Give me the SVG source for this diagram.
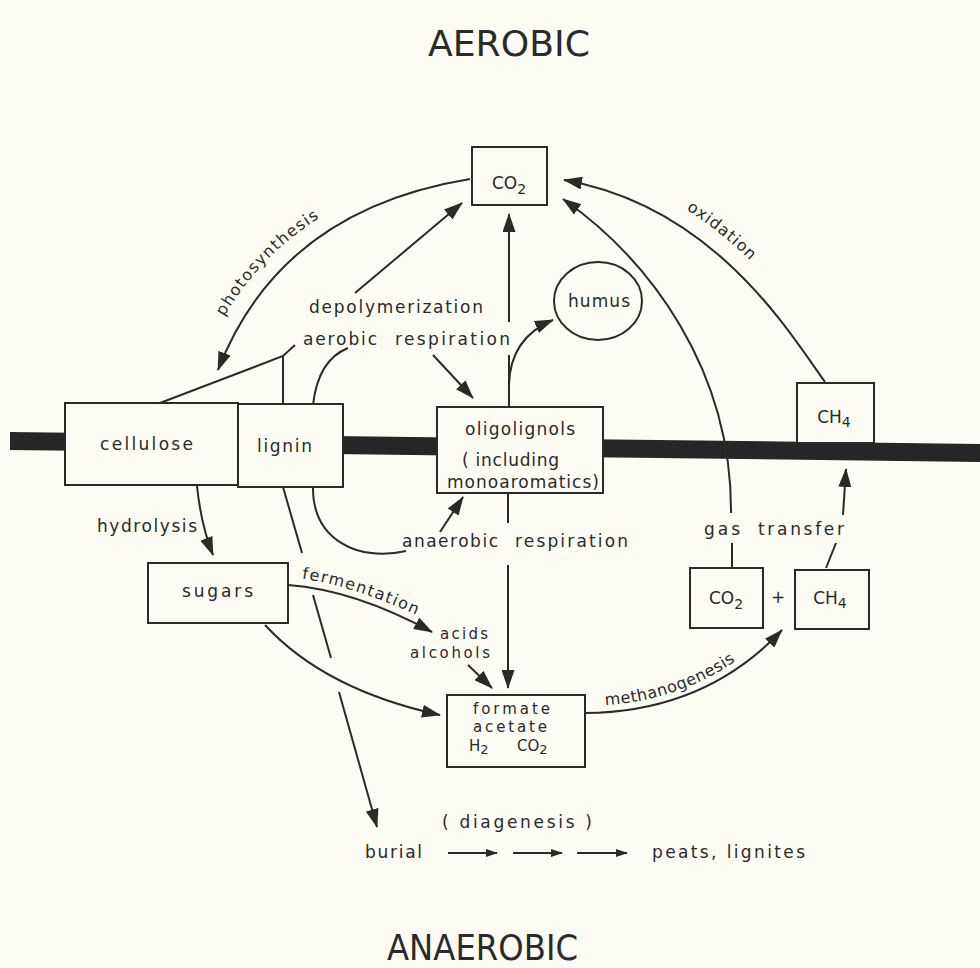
<svg xmlns="http://www.w3.org/2000/svg" width="980" height="968" viewBox="0 0 980 968">
<style>
.ln{fill:none;stroke:#2a2a2a;stroke-width:2}
.bx{fill:#fcfcf5;stroke:#2a2a2a;stroke-width:2}
text{font-family:"DejaVu Sans",sans-serif;font-size:17px;fill:#2a2a2a}
.ttl{font-size:36px}
.tp{font-size:16px}
.sub{font-size:14px}
.sm{font-size:15px}
.md{font-size:15px}
</style>
<defs>
<marker id="ah" markerUnits="userSpaceOnUse" viewBox="0 0 19 13" markerWidth="19" markerHeight="13" refX="18" refY="6.5" orient="auto"><path d="M0,0 L19,6.5 L0,13 z" fill="#2a2a2a"/></marker>
<marker id="sm" markerUnits="userSpaceOnUse" viewBox="0 0 12 8" markerWidth="12" markerHeight="8" refX="11" refY="4" orient="auto"><path d="M0,0 L12,4 L0,8 z" fill="#2a2a2a"/></marker>
<path id="pPhoto" d="M203,360 Q 268,198 468,164"/>
<path id="pFerm" d="M287,577 Q 351,582 437,625"/>
<path id="pMeth" d="M585,706 Q 702,705 777,625"/>
<path id="pOxi" d="M569,164 C 725,192 801,319 838,373"/>
</defs>
<rect x="0" y="0" width="980" height="968" fill="#fcfcf5"/>
<text class="ttl" x="428" y="56" textLength="162" lengthAdjust="spacingAndGlyphs">AEROBIC</text>
<text class="ttl" x="387" y="960" textLength="191" lengthAdjust="spacingAndGlyphs">ANAEROBIC</text>
<polygon points="10,432 980,444 980,462 10,450" fill="#262626"/>
<g id="connectors">
<path class="ln" d="M470,179 Q 280,210 218,370" marker-end="url(#ah)"/>
<path class="ln" d="M355,293 L462,203" marker-end="url(#ah)"/>
<path class="ln" d="M509,322 L509,214" marker-end="url(#ah)"/>
<path class="ln" d="M509,355 L509,407"/>
<path class="ln" d="M509,385 Q 510,338 553,320" marker-end="url(#ah)"/>
<path class="ln" d="M433,355 L473,398" marker-end="url(#ah)"/>
<path class="ln" d="M160,403 L283,356 L295,345"/>
<path class="ln" d="M283,356 L283,405"/>
<path class="ln" d="M313,405 Q 318,360 348,348"/>
<path class="ln" d="M283,487 L302,553"/>
<path class="ln" d="M313,595 L331,658"/>
<path class="ln" d="M339,692 L377,827" marker-end="url(#ah)"/>
<path class="ln" d="M313,488 C 313,540 358,562 406,551"/>
<path class="ln" d="M440,532 L463,497" marker-end="url(#ah)"/>
<path class="ln" d="M508,493 L508,523"/>
<path class="ln" d="M508,565 L508,688" marker-end="url(#ah)"/>
<path class="ln" d="M197,486 Q 201,525 213,555" marker-end="url(#ah)"/>
<path class="ln" d="M288,585 Q 355,590 432,632" marker-end="url(#ah)"/>
<path class="ln" d="M265,625 Q 325,690 440,715" marker-end="url(#ah)"/>
<path class="ln" d="M468,665 L492,688" marker-end="url(#ah)"/>
<path class="ln" d="M585,713 Q 705,712 782,630" marker-end="url(#ah)"/>
<path class="ln" d="M732,568 L732,543"/>
<path class="ln" d="M731,513 C 732,370 650,260 563,199" marker-end="url(#ah)"/>
<path class="ln" d="M825,382 C 790,333 714,206 564,180" marker-end="url(#ah)"/>
<path class="ln" d="M826,568 L836,543"/>
<path class="ln" d="M843,515 L846,469" marker-end="url(#ah)"/>
<path class="ln" d="M448,853 L497,853" marker-end="url(#sm)"/>
<path class="ln" d="M513,853 L562,853" marker-end="url(#sm)"/>
<path class="ln" d="M577,853 L627,853" marker-end="url(#sm)"/>
</g>
<g id="labels">
<text class="tp" letter-spacing="1.3"><textPath href="#pPhoto" startOffset="118" text-anchor="middle">photosynthesis</textPath></text>
<text class="tp" letter-spacing="1.5"><textPath href="#pFerm" startOffset="76" text-anchor="middle">fermentation</textPath></text>
<text class="tp" letter-spacing="0.5"><textPath href="#pMeth" startOffset="90" text-anchor="middle">methanogenesis</textPath></text>
<text class="tp" letter-spacing="1"><textPath href="#pOxi" startOffset="168" text-anchor="middle">oxidation</textPath></text>
<text x="309" y="313" textLength="174">depolymerization</text>
<text><tspan x="303" y="345" textLength="74">aerobic</tspan><tspan x="395" y="345" textLength="115">respiration</tspan></text>
<text><tspan x="402" y="547" textLength="96">anaerobic</tspan><tspan x="515" y="547" textLength="113">respiration</tspan></text>
<text x="97" y="532" textLength="100">hydrolysis</text>
<text class="md" x="440" y="639" textLength="48">acids</text>
<text class="md" x="410" y="658" textLength="80">alcohols</text>
<text x="365" y="858" textLength="57">burial</text>
<text x="442" y="828" textLength="150">( diagenesis )</text>
<text x="652" y="858" textLength="153">peats, lignites</text>
<text><tspan x="704" y="535" textLength="36">gas</tspan><tspan x="758" y="535" textLength="86">transfer</tspan></text>
<text x="778" y="603" text-anchor="middle" font-size="13">+</text>
</g>
<g id="co2-top"><rect class="bx" x="472" y="147" width="75" height="58"/><text x="509" y="189" text-anchor="middle">CO<tspan class="sub" dy="5">2</tspan></text></g>
<g id="humus"><ellipse class="bx" cx="598" cy="301" rx="44" ry="39"/><text x="568" y="307" textLength="62">humus</text></g>
<g id="cellulose"><rect class="bx" x="65" y="403" width="173" height="82"/><text x="100" y="450" textLength="93">cellulose</text></g>
<g id="lignin"><rect class="bx" x="238" y="404" width="105" height="83"/><text x="257" y="452" textLength="55">lignin</text></g>
<g id="oligolignols"><rect class="bx" x="437" y="407" width="166" height="86"/><text x="465" y="435" textLength="110">oligolignols</text><text x="462" y="466" textLength="97">( including</text><text x="447" y="488" textLength="152">monoaromatics)</text></g>
<g id="ch4-top"><rect class="bx" x="797" y="383" width="77" height="60"/><text x="834" y="423" text-anchor="middle">CH<tspan class="sub" dy="4">4</tspan></text></g>
<g id="sugars"><rect class="bx" x="148" y="563" width="140" height="60"/><text x="182" y="597" textLength="71">sugars</text></g>
<g id="formate"><rect class="bx" x="447" y="695" width="138" height="72"/><text class="sm" x="473" y="714" textLength="77">formate</text><text class="sm" x="473" y="732" textLength="74">acetate</text><text class="sm" x="469" y="751">H<tspan font-size="13" dy="3">2</tspan></text><text class="sm" x="517" y="751">CO<tspan font-size="13" dy="3">2</tspan></text></g>
<g id="co2-bottom"><rect class="bx" x="690" y="568" width="73" height="60"/><text x="726" y="604" text-anchor="middle">CO<tspan class="sub" dy="5">2</tspan></text></g>
<g id="ch4-bottom"><rect class="bx" x="795" y="570" width="74" height="59"/><text x="830" y="604" text-anchor="middle">CH<tspan class="sub" dy="4">4</tspan></text></g>
</svg>
